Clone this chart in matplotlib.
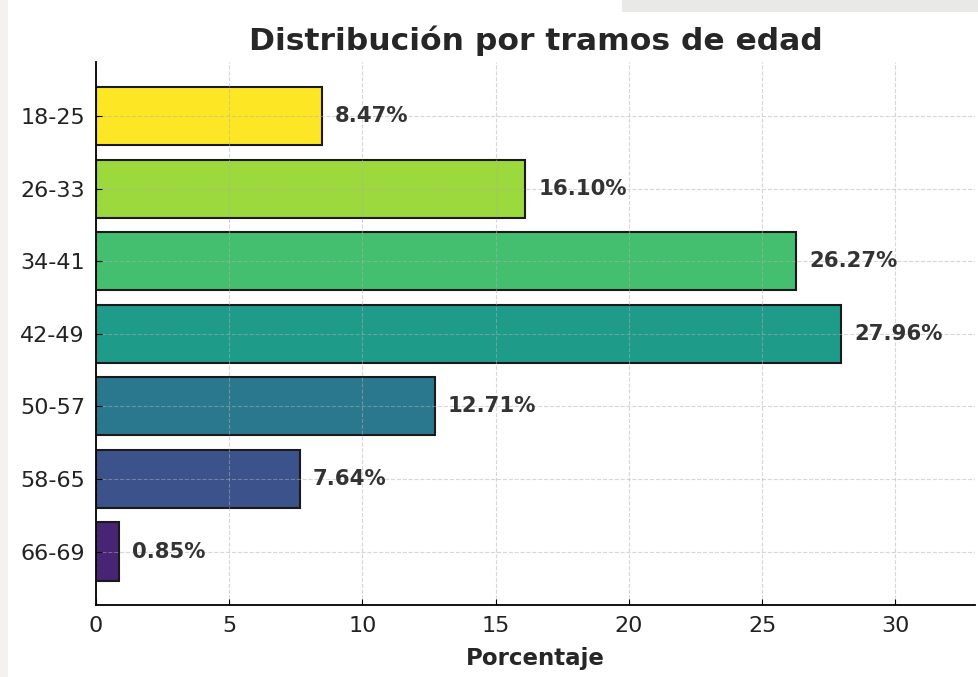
import numpy as np
import matplotlib.pyplot as plt
from matplotlib.patches import Rectangle

# age groups and share of people (%)
tramos = ['18-25', '26-33', '34-41', '42-49', '50-57', '58-65', '66-69']
porcentajes = [8.47, 16.10, 26.27, 27.96, 12.71, 7.64, 0.85]

colores = plt.cm.viridis(np.linspace(1.0, 0.1, len(tramos)))

fig = plt.figure(figsize=(9.79, 6.77), dpi=100)
fig.patch.set_facecolor('white')
# bits of the photographed page around the chart
fig.patches.append(Rectangle((0.635, 0.982), 0.365, 0.018, transform=fig.transFigure,
                             facecolor='#e9e9e7', edgecolor='none', zorder=0))
fig.patches.append(Rectangle((0, 0), 0.008, 1, transform=fig.transFigure,
                             facecolor='#f4f2ef', edgecolor='none', zorder=0))

ax = fig.add_axes([0.098, 0.106, 0.898, 0.802])
ax.set_facecolor('none')

y = np.arange(len(tramos))
ax.barh(y, porcentajes, height=0.8, color=colores, edgecolor='#1a1a1a', linewidth=1.5)
ax.invert_yaxis()
ax.set_yticks(y)
ax.set_yticklabels(tramos)

for yi, v in zip(y, porcentajes):
    ax.text(v + 0.5, yi, f'{v:.2f}%', va='center', ha='left',
            fontsize=15.3, fontweight='bold', color='#333333')

ax.set_xlim(0, max(porcentajes) * 1.18)
ax.set_xticks(np.arange(0, 35, 5))

ax.set_title('Distribución por tramos de edad', fontsize=22.6, fontweight='bold',
             color='#262626', pad=9)
ax.set_xlabel('Porcentaje', fontsize=16.5, fontweight='bold', color='#262626',
              labelpad=8)

ax.grid(True, linestyle='--', color='#b0b0b0', linewidth=0.8, alpha=0.5)
ax.spines['top'].set_visible(False)
ax.spines['right'].set_visible(False)
ax.spines['left'].set_linewidth(1.3)
ax.spines['bottom'].set_linewidth(1.3)
ax.tick_params(direction='in', length=4, labelsize=16, labelcolor='#222222', pad=8)

fig.savefig('out.png', dpi=100)
